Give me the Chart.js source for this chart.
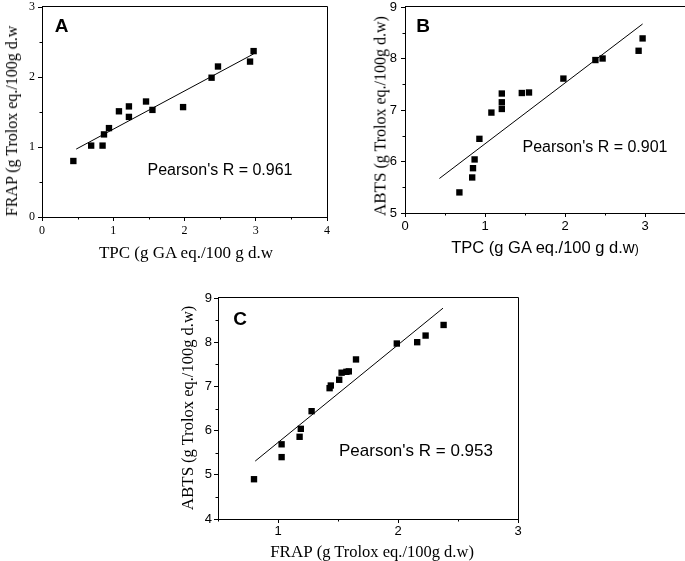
<!DOCTYPE html>
<html>
<head>
<meta charset="utf-8">
<script src="https://cdn.jsdelivr.net/npm/chart.js@4.4.1/dist/chart.umd.min.js"></script>
<style>
  html, body { margin: 0; padding: 0; background: #fff; }
  body { width: 685px; height: 561px; overflow: hidden; position: relative; }
  canvas { position: absolute; }
  .t { position: absolute; white-space: nowrap; line-height: 1; color: #000; transform: translate(-50%, -50%); }
  .serif { font-family: "Liberation Serif", "Times New Roman", serif; }
  .sans { font-family: "Liberation Sans", Arial, sans-serif; }
  .rot { transform: translate(-50%, -50%) rotate(-90deg); }
  .tag { font-weight: bold; font-size: 19px; }
</style>
</head>
<body>
<canvas id="chartA"></canvas>
<canvas id="chartB"></canvas>
<canvas id="chartC"></canvas>

<div class="t sans tag" style="left:61.5px; top:25px">A</div>
<div class="t sans tag" style="left:423px; top:24.5px">B</div>
<div class="t sans tag" style="left:240px; top:317.5px">C</div>

<div class="t sans" style="left:220px; top:170px; font-size:16px">Pearson's R = 0.961</div>
<div class="t sans" style="left:595px; top:147px; font-size:16px">Pearson's R = 0.901</div>
<div class="t sans" style="left:416px; top:449.5px; font-size:17px">Pearson's R = 0.953</div>

<div class="t serif rot" style="left:12px; top:121px; font-size:16px">FRAP (g Trolox eq./100g d.w</div>
<div class="t serif" style="left:186px; top:252px; font-size:17px">TPC (g GA eq./100 g d.w</div>

<div class="t serif rot" style="left:380px; top:116px"><span style="font-size:17px">ABTS</span> <span style="font-size:16px">(g Trolox eq./100g d.w)</span></div>
<div class="t sans" style="left:545px; top:247px; font-size:16.5px">TPC (g GA eq./100 g d.w<span style="font-size:12px">)</span></div>

<div class="t serif rot" style="left:188px; top:408px"><span style="font-size:17px">ABTS</span> <span style="font-size:16.5px">(g Trolox eq./100g d.w)</span></div>
<div class="t serif" style="left:372px; top:552px"><span style="font-size:17px">FRAP</span> <span style="font-size:16.5px">(g Trolox eq./100g d.w)</span></div>

<script>
// panel A: TPC vs FRAP
const A_TPC  = [0.44, 0.69, 0.85, 0.87, 0.94, 1.08, 1.22, 1.22, 1.46, 1.55, 1.98, 2.38, 2.47, 2.92, 2.97];
const A_FRAP = [0.80, 1.02, 1.02, 1.18, 1.27, 1.51, 1.58, 1.43, 1.65, 1.53, 1.57, 1.99, 2.15, 2.22, 2.37];
const A_FIT_X = [0.48, 2.97];
const A_FIT_Y = [0.97, 2.33];
const A_X_TICKS = [0, 1, 2, 3, 4];
const A_Y_TICKS = [0, 1, 2, 3];
const A_X_MINOR = [0.5, 1.5, 2.5, 3.5];
const A_Y_MINOR = [0.5, 1.5, 2.5];

// panel B: TPC vs ABTS
const B_TPC  = [0.68, 0.84, 0.85, 0.87, 0.93, 1.08, 1.21, 1.21, 1.21, 1.46, 1.55, 1.98, 2.38, 2.47, 2.92, 2.97];
const B_ABTS = [5.40, 5.69, 5.87, 6.04, 6.44, 6.95, 7.02, 7.15, 7.32, 7.33, 7.34, 7.61, 7.97, 8.00, 8.15, 8.39];
const B_FIT_X = [0.43, 2.97];
const B_FIT_Y = [5.67, 8.67];
const B_X_TICKS = [0, 1, 2, 3, 4];
const B_Y_TICKS = [5, 6, 7, 8, 9];
const B_X_MINOR = [0.5, 1.5, 2.5, 3.5];
const B_Y_MINOR = [5.5, 6.5, 7.5, 8.5];

// panel C: FRAP vs ABTS
const C_FRAP = [0.80, 1.03, 1.03, 1.18, 1.19, 1.28, 1.43, 1.44, 1.51, 1.53, 1.57, 1.59, 1.65, 1.99, 2.16, 2.23, 2.38];
const C_ABTS = [4.90, 5.40, 5.69, 5.86, 6.04, 6.44, 6.96, 7.02, 7.15, 7.31, 7.33, 7.34, 7.61, 7.97, 8.00, 8.15, 8.39];
const C_FIT_X = [0.81, 2.375];
const C_FIT_Y = [5.31, 8.77];
const C_X_TICKS = [1, 2, 3];
const C_Y_TICKS = [4, 5, 6, 7, 8, 9];
const C_X_MINOR = [0.5, 1.5, 2.5];
const C_Y_MINOR = [4.5, 5.5, 6.5, 7.5, 8.5];

const SERIF = '"Liberation Serif", "Times New Roman", serif';
const SANS = '"Liberation Sans", Arial, sans-serif';

const toPoints = (xs, ys) => xs.map((x, i) => ({ x, y: ys[i] }));
const crisp = (v) => Math.round(v) + 0.5;

// top/right frame and the short half-step ticks
const framePlugin = {
  id: "frame",
  afterDraw(chart, args, opts) {
    const { ctx, chartArea: a, scales } = chart;
    ctx.save();
    ctx.strokeStyle = "#000";
    ctx.lineWidth = 1;
    ctx.beginPath();
    ctx.moveTo(crisp(a.left) - 0.5, crisp(a.top) - 1);
    ctx.lineTo(crisp(a.right), crisp(a.top) - 1);
    ctx.lineTo(crisp(a.right), crisp(a.bottom));
    for (const v of opts.xMinor) {
      const px = crisp(scales.x.getPixelForValue(v));
      ctx.moveTo(px, a.bottom);
      ctx.lineTo(px, a.bottom + 2.5);
    }
    for (const v of opts.yMinor) {
      const py = crisp(scales.y.getPixelForValue(v));
      ctx.moveTo(a.left, py);
      ctx.lineTo(a.left - 2.5, py);
    }
    ctx.stroke();
    ctx.restore();
  },
};

function axis(ticksList, min, max, font, pad, isX) {
  return {
    type: "linear",
    min,
    max,
    afterBuildTicks: (scale) => { scale.ticks = ticksList.map((value) => ({ value })); },
    afterFit: (scale) => { if (isX) scale.height = 30; else scale.width = 30; },
    grid: { drawOnChartArea: false, drawTicks: true, tickLength: 4, color: "#000", tickColor: "#000" },
    border: { display: true, color: "#000", width: 1 },
    ticks: { color: "#000", font, padding: pad, maxRotation: 0, autoSkip: false, callback: (v) => String(v) },
  };
}

function panel(id, p) {
  const margin = 20;
  const canvas = document.getElementById(id);
  const x0 = p.area.left - 30 - margin;
  const y0 = p.area.top - margin;
  const w = p.area.right + margin - x0;
  const h = p.area.bottom + 30 + margin - y0;
  canvas.width = w;
  canvas.height = h;
  canvas.style.left = `${x0}px`;
  canvas.style.top = `${y0}px`;
  canvas.style.width = `${w}px`;
  canvas.style.height = `${h}px`;

  new Chart(canvas, {
    type: "scatter",
    data: {
      datasets: [
        {
          data: toPoints(p.xs, p.ys),
          pointStyle: "rect",
          pointRadius: 4.5,
          backgroundColor: "#000",
          borderWidth: 0,
        },
        {
          type: "line",
          data: toPoints(p.fitX, p.fitY),
          borderColor: "#000",
          borderWidth: 1,
          pointRadius: 0,
          fill: false,
          tension: 0,
        },
      ],
    },
    options: {
      responsive: false,
      animation: false,
      events: [],
      layout: { padding: { left: margin, top: margin, right: margin, bottom: margin } },
      plugins: {
        legend: { display: false },
        tooltip: { enabled: false },
        frame: { xMinor: p.xMinor, yMinor: p.yMinor },
      },
      scales: {
        x: axis(p.xTicks, p.xMin, p.xMax, p.font, p.xPad, true),
        y: axis(p.yTicks, p.yMin, p.yMax, p.font, p.yPad, false),
      },
    },
    plugins: [framePlugin],
  });
}

panel("chartA", {
  area: { left: 42, top: 7, right: 327, bottom: 217 },
  xs: A_TPC, ys: A_FRAP, fitX: A_FIT_X, fitY: A_FIT_Y,
  xMin: 0, xMax: 4, yMin: 0, yMax: 3,
  xTicks: A_X_TICKS, yTicks: A_Y_TICKS, xMinor: A_X_MINOR, yMinor: A_Y_MINOR,
  font: { family: SERIF, size: 12 }, xPad: 3, yPad: 3,
});

panel("chartB", {
  area: { left: 405, top: 7, right: 725, bottom: 213 },
  xs: B_TPC, ys: B_ABTS, fitX: B_FIT_X, fitY: B_FIT_Y,
  xMin: 0, xMax: 4, yMin: 5, yMax: 9,
  xTicks: B_X_TICKS, yTicks: B_Y_TICKS, xMinor: B_X_MINOR, yMinor: B_Y_MINOR,
  font: { family: SANS, size: 13 }, xPad: 2, yPad: 4,
});

panel("chartC", {
  area: { left: 218, top: 298, right: 518, bottom: 519 },
  xs: C_FRAP, ys: C_ABTS, fitX: C_FIT_X, fitY: C_FIT_Y,
  xMin: 0.5, xMax: 3, yMin: 4, yMax: 9,
  xTicks: C_X_TICKS, yTicks: C_Y_TICKS, xMinor: C_X_MINOR, yMinor: C_Y_MINOR,
  font: { family: SANS, size: 13 }, xPad: 1, yPad: 2,
});
</script>
</body>
</html>
